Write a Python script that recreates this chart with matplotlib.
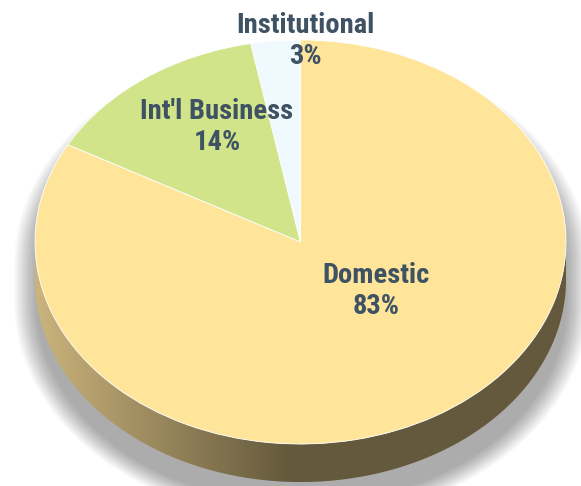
import numpy as np
import matplotlib
matplotlib.use("Agg")
import matplotlib.pyplot as plt
from matplotlib import font_manager as fm
from matplotlib.patches import Polygon

# ---- data ----
categories = ["Domestic", "Int'l Business", "Institutional"]
shares = [83, 14, 3]
label_text = ["Domestic\n83%", "Int'l Business\n14%", "Institutional\n3%"]
colors = ["#FEE599", "#D1E48A", "#F0FAFE"]

# ---- layout (pixels) ----
W, H = 581, 486
k = 0.761            # vertical squash of the tilted pie
cx, cy_pix = 300.5, 242
R = 265.5
thick = 38
label_pos = [(376, 291), (217, 127), (305, 41)]
text_color = "#3E5264"

installed = {f.name for f in fm.fontManager.ttflist}
font = next((n for n in ["Liberation Sans Narrow", "DejaVu Sans Condensed",
                         "Roboto Condensed", "Lato", "Roboto"] if n in installed),
            "DejaVu Sans")

fig = plt.figure(figsize=(W / 100, H / 100), dpi=100)
ax = fig.add_axes([0, 0, 1, 1])
cy = (H - cy_pix) / k
t = thick / k


def shape(center_x, center_y, r, depth):
    th1 = np.linspace(0, np.pi, 200)
    th2 = np.linspace(np.pi, 2 * np.pi, 200)
    xs = np.concatenate([center_x + r * np.cos(th1), center_x + r * np.cos(th2)])
    ys = np.concatenate([center_y + r * np.sin(th1), center_y - depth + r * np.sin(th2)])
    return np.column_stack([xs, ys])


# soft drop shadow (offset downward so it only shows at the sides/bottom)
for e in np.linspace(22, 0, 18):
    ax.add_patch(Polygon(shape(cx + 1, cy - 22 / k, R + e, t), closed=True,
                         facecolor="#000000", edgecolor="none", alpha=0.02, zorder=1))

# side wall with gradient
th = np.linspace(np.pi, 2 * np.pi, 300)
top = np.column_stack([cx + R * np.cos(th), cy + R * np.sin(th)])
bot = np.column_stack([cx + R * np.cos(th[::-1]), cy - t + R * np.sin(th[::-1])])
side = Polygon(np.vstack([top, bot]), closed=True, facecolor="none", edgecolor="none")
ax.add_patch(side)
xg = np.linspace(cx - R, cx + R, 400)
c_left = np.array([203, 180, 124]) / 255
c_right = np.array([100, 89, 60]) / 255
f = np.clip((xg - (cx - R)) / (290 - (cx - R)), 0, 1)[:, None]
grad = (c_left * (1 - f) + c_right * f)[None, :, :]
im = ax.imshow(grad, extent=[cx - R, cx + R, cy - t - R, cy], aspect="auto",
               zorder=2, interpolation="bilinear")
im.set_clip_path(side)

# top face
wedges, _ = ax.pie(shares, colors=colors, startangle=90, counterclock=False,
                   center=(cx, cy), radius=R, frame=True,
                   wedgeprops=dict(linewidth=0.6, edgecolor="#FFFFFF"))
for w in wedges:
    w.set_zorder(3)

ax.set_aspect("auto")
ax.set_xlim(0, W)
ax.set_ylim(0, H / k)
ax.axis("off")

for txt, (px, py) in zip(label_text, label_pos):
    fig.text(px / W, 1 - py / H, txt, ha="center", va="center",
             fontsize=20.5, fontweight="bold", color=text_color,
             family=[font, "DejaVu Sans"], linespacing=1.2)

fig.savefig("out.png", dpi=100)
